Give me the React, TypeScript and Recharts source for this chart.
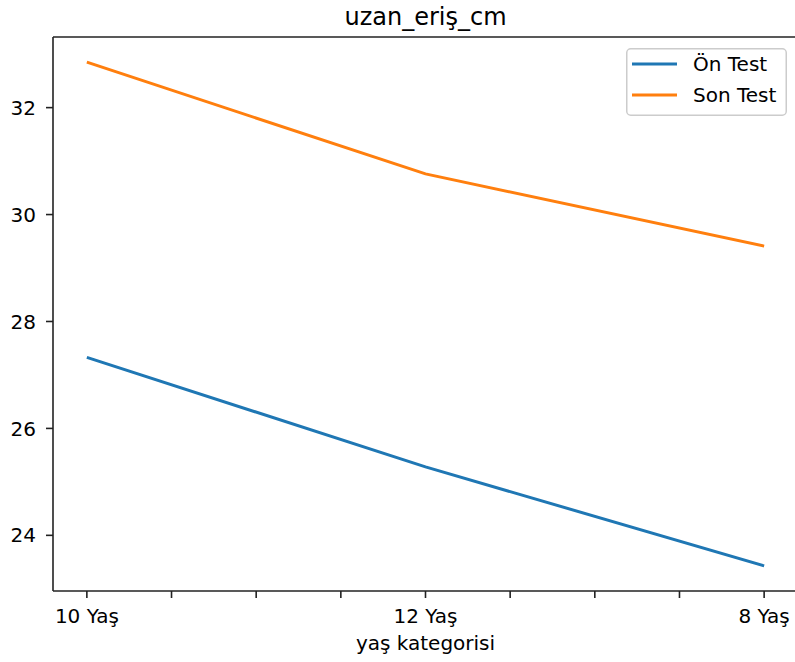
import React from "react";
import { LineChart, Line, XAxis, YAxis, Legend, ReferenceLine } from "recharts";

const categories = ["10 Yaş", "12 Yaş", "8 Yaş"];
const onTest = [27.33, 25.28, 23.43];
const sonTest = [32.85, 30.76, 29.41];
const yTicks = [24, 26, 28, 30, 32];
const xTicks = [0, 0.25, 0.5, 0.75, 1, 1.25, 1.5, 1.75, 2];
const seriesNames = ["Ön Test", "Son Test"];
const colors = ["#1f77b4", "#ff7f0e"];

const data = categories.map((c, i) => ({ x: i, cat: c, on: onTest[i], son: sonTest[i] }));

const FONT = "'DejaVu Sans', sans-serif";
const allVals = [...onTest, ...sonTest];
const vmin = Math.min(...allVals);
const vmax = Math.max(...allVals);
const pad = (vmax - vmin) * 0.05;
const yDomain = [vmin - pad, vmax + pad];
const xDomain = [-0.1, 2.1];

const AXIS = "#222";

const LegendBox = () => {
  return (
    <svg width={161} height={68} style={{ display: "block" }}>
      <rect x={0.75} y={0.75} width={159.5} height={66.5} rx={4} ry={4} fill="rgba(255,255,255,0.8)" stroke="#cccccc" strokeWidth={1.5} />
      {seriesNames.map((name, i) => (
        <g key={i}>
          <line x1={6} x2={51} y1={16 + i * 31} y2={16 + i * 31} stroke={colors[i]} strokeWidth={3} />
          <text x={67} y={16 + i * 31} dy="0.36em" fontFamily={FONT} fontSize={20} fill="#000">
            {name}
          </text>
        </g>
      ))}
    </svg>
  );
};

export default function App() {
  return (
    <div style={{ position: "fixed", left: 0, top: 0, width: 795, height: 662, overflow: "hidden", background: "#fff" }}>
      <LineChart width={830} height={662} data={data} margin={{ top: 37, right: 32, left: 0, bottom: 0 }}>
        <XAxis
          dataKey="x"
          type="number"
          domain={xDomain}
          ticks={xTicks}
          allowDataOverflow
          tickFormatter={(v: number) => (Number.isInteger(v) ? categories[v] : "")}
          height={71}
          tickSize={7}
          tickMargin={11}
          stroke={AXIS}
          strokeWidth={1.6}
          tick={{ fill: "#000", fontSize: 20, fontFamily: FONT }}
          tickLine={{ stroke: AXIS, strokeWidth: 1.6 }}
        />
        <YAxis
          type="number"
          domain={yDomain}
          ticks={yTicks}
          allowDataOverflow
          width={53}
          tickSize={7}
          tickMargin={10}
          stroke={AXIS}
          strokeWidth={1.6}
          tick={{ fill: "#000", fontSize: 20, fontFamily: FONT }}
          tickLine={{ stroke: AXIS, strokeWidth: 1.6 }}
        />
        <ReferenceLine y={yDomain[1]} stroke={AXIS} strokeWidth={1.6} ifOverflow="visible" />
        <Line dataKey="on" name={seriesNames[0]} stroke={colors[0]} strokeWidth={3} dot={false} isAnimationActive={false} />
        <Line dataKey="son" name={seriesNames[1]} stroke={colors[1]} strokeWidth={3} dot={false} isAnimationActive={false} />
        <Legend
          layout="horizontal"
          verticalAlign="middle"
          align="center"
          content={<LegendBox />}
          wrapperStyle={{ position: "absolute", left: 626, top: 48, width: 161, height: 68 }}
        />
      </LineChart>
      <svg width={795} height={662} style={{ position: "absolute", left: 0, top: 0, pointerEvents: "none" }}>
        <text x={425.5} y={25} textAnchor="middle" fontFamily={FONT} fontSize={24} fill="#000">
          uzan_eriş_cm
        </text>
        <text x={425.5} y={650} textAnchor="middle" fontFamily={FONT} fontSize={20} fill="#000">
          yaş kategorisi
        </text>
      </svg>
    </div>
  );
}
